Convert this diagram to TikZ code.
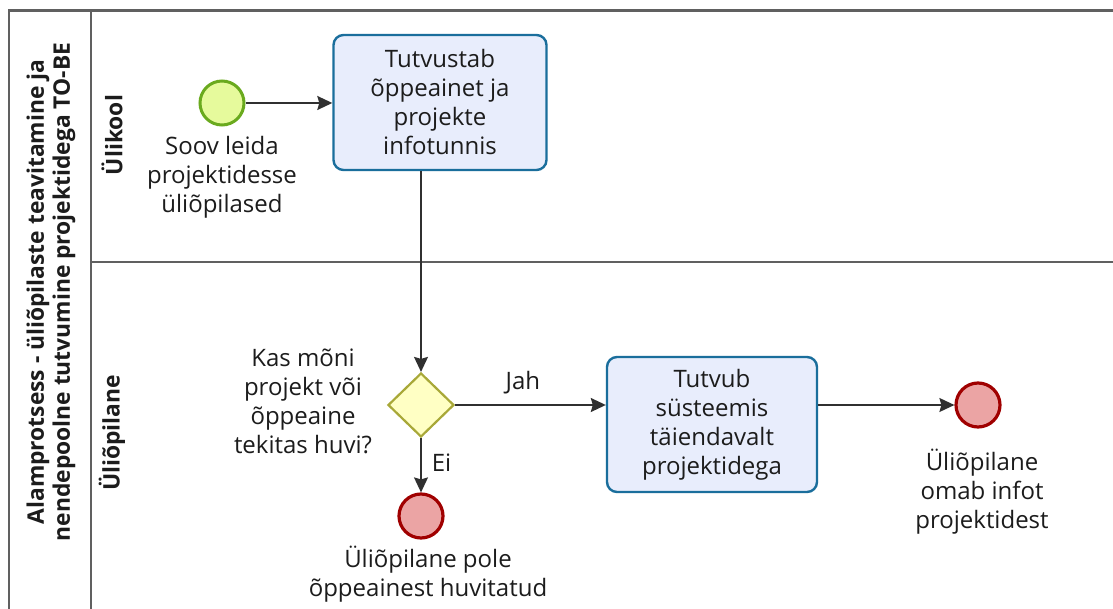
\documentclass[tikz,border=0pt]{standalone}
\usepackage{fontspec}
\setmainfont{Open Sans}
\usetikzlibrary{shapes.geometric,arrows.meta,calc}

\definecolor{poolline}{HTML}{606060}
\definecolor{startfill}{HTML}{E6FA9C}
\definecolor{startline}{HTML}{6AAA1E}
\definecolor{endfill}{HTML}{EBA4A4}
\definecolor{endline}{HTML}{A00000}
\definecolor{taskfill}{HTML}{E8EDFC}
\definecolor{taskline}{HTML}{1A6E9C}
\definecolor{gatefill}{HTML}{FFFFC4}
\definecolor{gateline}{HTML}{A8A838}
\definecolor{flowline}{HTML}{303030}
\definecolor{txt}{HTML}{1C1C1C}

\tikzset{
  lanerule/.style={draw=poolline, line width=2.4pt},
  labeltext/.style={text=txt, align=center, inner sep=0pt,
    font=\fontsize{24}{29}\selectfont},
  headtext/.style={text=txt, align=center, inner sep=0pt, rotate=90,
    font=\bfseries\fontsize{22.8}{26}\selectfont},
  startev/.style={circle, draw=startline, fill=startfill, line width=3pt,
    minimum size=44pt, inner sep=0pt},
  endev/.style={circle, draw=endline, fill=endfill, line width=3.2pt,
    minimum size=44pt, inner sep=0pt},
  taskbox/.style={rectangle, rounded corners=10pt, draw=taskline, fill=taskfill,
    line width=2.4pt, text=txt, align=center, inner sep=0pt,
    font=\fontsize{24}{29}\selectfont},
  gateway/.style={diamond, draw=gateline, fill=gatefill, line width=2.2pt,
    minimum width=66pt, minimum height=64pt, inner sep=0pt},
  flow/.style={draw=flowline, line width=1.6pt,
    -{Stealth[length=15pt, width=14pt, inset=2pt]}},
}

\begin{document}
\begin{tikzpicture}[x=1pt, y=-1pt]
\useasboundingbox (0,0) rectangle (1113,609);
\fill[white] (0,0) rectangle (1113,609);

% pool and lane frame (open to the right and at the bottom)
\coordinate (poolTL) at (9,10.5);
\coordinate (poolTR) at (1113,10.5);
\coordinate (poolBL) at (9,609);
\coordinate (headTop) at (91,10.5);
\coordinate (headBot) at (91,609);
\coordinate (laneL) at (91,262);
\coordinate (laneR) at (1113,262);
\draw[lanerule] (poolTR) -- (poolTL) -- (poolBL);
\draw[lanerule] (headTop) -- (headBot);
\draw[lanerule] (laneL) -- (laneR);

% pool and lane headers
\node[headtext] (poolname) at (51,292)
  {Alamprotsess - üliõpilaste teavitamine ja\\nendepoolne tutvumine projektidega TO-BE};
\node[headtext] (lane1) at (112,135) {Ülikool};
\node[headtext] (lane2) at (112,433) {Üliõpilane};

% flow objects
\node[startev] (start) at (222,103) {};
\node[labeltext, anchor=north] (startlbl) at (222,136)
  {Soov leida\\projektidesse\\üliõpilased};

\node[taskbox, minimum width=213pt, minimum height=135pt] (task1) at (440,102.5)
  {Tutvustab\\õppeainet ja\\projekte\\infotunnis};

\node[gateway] (gate) at (421,405) {};
\node[labeltext] (gatelbl) at (303,401)
  {Kas mõni\\projekt või\\õppeaine\\tekitas huvi?};

\node[taskbox, minimum width=210pt, minimum height=135pt] (task2) at (712,424.5)
  {Tutvub\\süsteemis\\täiendavalt\\projektidega};

\node[endev] (end1) at (421,516) {};
\node[labeltext, anchor=north] (end1lbl) at (428,546)
  {Üliõpilane pole\\õppeainest huvitatud};

\node[endev] (end2) at (978,405) {};
\node[labeltext, anchor=north] (end2lbl) at (982,449)
  {Üliõpilane\\omab infot\\projektidest};

% sequence flows
\draw[flow] (start) -- (task1.west |- start);
\draw[flow] (task1.south -| gate.north) -- (gate.north);
\draw[flow] (gate.east) -- (gate.east -| task2.west)
  node[labeltext, pos=0.45, above=10pt] (jah) {Jah};
\draw[flow] (gate.south) -- (end1.north)
  node[labeltext, pos=0.45, right=10pt] (ei) {Ei};
\draw[flow] (task2.east |- end2) -- (end2.west);
\end{tikzpicture}
\end{document}
